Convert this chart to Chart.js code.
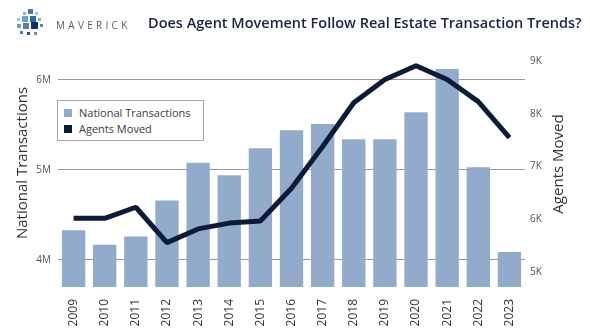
<!DOCTYPE html>
<html>
<head>
<title>Agent Movement vs Transactions</title>
<script src="https://cdn.jsdelivr.net/npm/chart.js@4.4.1/dist/chart.umd.min.js"></script>
<style>
body { margin:0; background:#fff; font-family:"Open Sans", sans-serif; }
#wrap { position:relative; width:590px; height:336px; }
#chart { position:absolute; left:0; top:0; }
#logo { position:absolute; left:14px; top:6px; }
#brand { position:absolute; left:56px; top:18px; font-size:10px; letter-spacing:3.3px; color:#5a5f6a; }
#title { position:absolute; left:148px; top:13px; font-size:14.5px; font-weight:600; color:#1b2440; white-space:nowrap; }
#legend { position:absolute; left:57px; top:100px; width:145px; height:39px; border:1px solid #a8a8a8; background:#fff; font-size:11px; color:#3c3c3c; }
#legend div { position:absolute; left:6px; height:16px; line-height:16px; white-space:nowrap; }
#legend span { display:inline-block; width:8px; height:8px; margin-right:7px; vertical-align:-0px; }
</style>
</head>
<body>
<div id="wrap">
<canvas id="chart" width="590" height="336"></canvas>
<svg id="logo" width="40" height="38">
  <rect x="9" y="6" width="3" height="3" fill="#8fb3d6"/>
  <rect x="14" y="3" width="5" height="5" fill="#3f7bb3"/>
  <rect x="21" y="6" width="3" height="3" fill="#9cc0de"/>
  <rect x="3" y="12" width="3" height="3" fill="#a9c7e0"/>
  <rect x="8" y="10" width="6" height="6" fill="#6fa3cf"/>
  <rect x="16" y="10" width="6" height="6" fill="#2f6aa8"/>
  <rect x="24" y="12" width="3" height="3" fill="#7fb0d8"/>
  <rect x="3" y="18" width="4" height="4" fill="#7d99bd"/>
  <rect x="9" y="17" width="6" height="6" fill="#5b7fab"/>
  <rect x="17" y="16" width="7" height="7" fill="#16315f"/>
  <rect x="26" y="18" width="3" height="3" fill="#4d86be"/>
  <rect x="6" y="25" width="3" height="3" fill="#5d79a3"/>
  <rect x="13" y="26" width="3" height="3" fill="#2e4e82"/>
  <rect x="20" y="26" width="3" height="3" fill="#6d8fbc"/>
</svg>
<div id="brand">MAVERICK</div>
<div id="title">Does Agent Movement Follow Real Estate Transaction Trends?</div>
<div id="legend">
  <div style="top:4px"><span style="background:#93abcb"></span>National Transactions</div>
  <div style="top:20px"><span style="background:#0d1b3a"></span>Agents Moved</div>
</div>
</div>
<script>
// data
var years = ['2009','2010','2011','2012','2013','2014','2015','2016','2017','2018','2019','2020','2021','2022','2023'];
var transactions = [4330000, 4170000, 4260000, 4660000, 5080000, 4940000, 5240000, 5440000, 5510000, 5340000, 5340000, 5640000, 6120000, 5030000, 4090000];
var agentsMoved = [6020, 6020, 6230, 5560, 5820, 5930, 5970, 6590, 7380, 8210, 8650, 8910, 8650, 8230, 7550];
var leftTicks = [4000000, 5000000, 6000000];
var rightTicks = [5000, 6000, 7000, 8000, 9000];

var barColor = '#93abcb';
var lineColor = '#0d1b3a';
var tickFont = { family: 'Open Sans', size: 10 };

var axisTitles = {
  id: 'axisTitles',
  afterDraw: function (chart) {
    var ctx = chart.ctx;
    ctx.save();
    ctx.font = '15px "Open Sans"';
    ctx.fillStyle = '#333';
    ctx.textAlign = 'center';
    ctx.textBaseline = 'middle';
    ctx.translate(23, 163);
    ctx.rotate(-Math.PI / 2);
    ctx.fillText('National Transactions', 0, 0);
    ctx.restore();
    ctx.save();
    ctx.font = '15px "Open Sans"';
    ctx.fillStyle = '#333';
    ctx.textAlign = 'center';
    ctx.textBaseline = 'middle';
    ctx.translate(559, 164);
    ctx.rotate(-Math.PI / 2);
    ctx.fillText('Agents Moved', 0, 0);
    ctx.restore();
  }
};

var ctx = document.getElementById('chart').getContext('2d');
var chart = new Chart(ctx, {
  type: 'bar',
  data: {
    labels: years,
    datasets: [
      {
        type: 'line',
        label: 'Agents Moved',
        data: agentsMoved,
        yAxisID: 'y2',
        borderColor: lineColor,
        borderWidth: 5,
        pointRadius: 0,
        tension: 0,
        borderJoinStyle: 'bevel',
        order: 0
      },
      {
        label: 'National Transactions',
        data: transactions,
        yAxisID: 'y',
        backgroundColor: barColor,
        barPercentage: 0.75,
        categoryPercentage: 1,
        order: 1
      }
    ]
  },
  options: {
    responsive: false,
    animation: false,
    layout: { padding: { top: 61, left: 0, right: 0, bottom: 0 } },
    plugins: { legend: { display: false }, tooltip: { enabled: false } },
    scales: {
      x: {
        grid: { display: false },
        border: { display: false },
        ticks: { color: '#333', font: { family: 'Open Sans', size: 12 }, minRotation: 90, maxRotation: 90, padding: 4 },
        afterFit: function (s) { s.height = 49; }
      },
      y: {
        position: 'left',
        min: 3700000,
        max: 6210000,
        border: { display: false },
        grid: { color: '#9a9a9a', drawTicks: false, lineWidth: 1 },
        afterBuildTicks: function (s) { s.ticks = leftTicks.map(function (v) { return { value: v }; }); },
        ticks: { color: '#555', font: tickFont, padding: 7, callback: function (v) { return (v / 1000000) + 'M'; } },
        afterFit: function (s) { s.width = 58; }
      },
      y2: {
        position: 'right',
        min: 4720,
        max: 9000,
        border: { display: false },
        grid: { display: false, drawTicks: false },
        afterBuildTicks: function (s) { s.ticks = rightTicks.map(function (v) { return { value: v }; }); },
        ticks: { color: '#555', font: tickFont, padding: 5, callback: function (v) { return (v / 1000) + 'K'; } },
        afterFit: function (s) { s.width = 65; }
      }
    }
  },
  plugins: [axisTitles]
});
</script>
</body>
</html>
